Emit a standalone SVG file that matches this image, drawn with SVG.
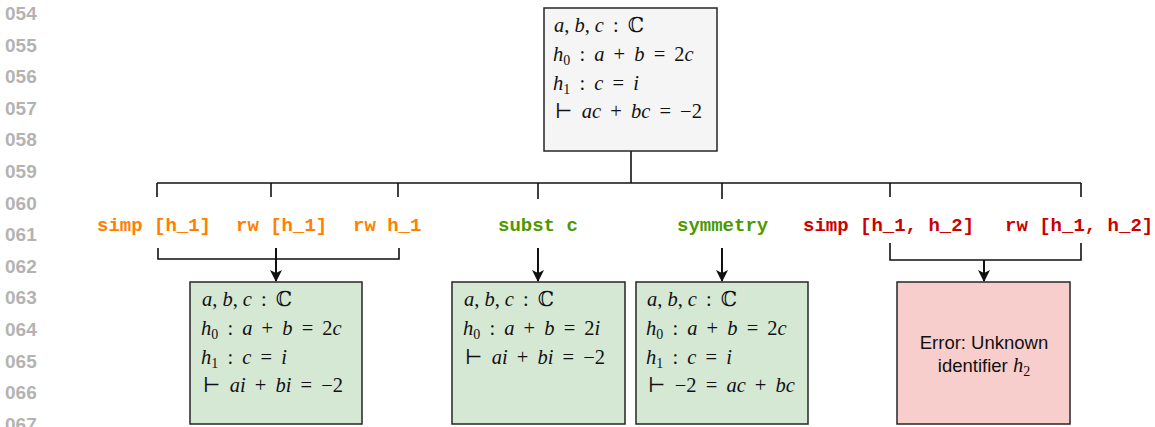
<svg xmlns="http://www.w3.org/2000/svg" width="1155" height="427" viewBox="0 0 1155 427">
<style>
.ln{font-family:"Liberation Sans",Arial,sans-serif;font-weight:bold;font-size:19px;fill:#b3b3b3}
.m{font-family:"Liberation Serif","DejaVu Serif",serif;font-size:20.5px;fill:#111;word-spacing:4px}
.i{font-style:italic}
.sub{font-size:14px}
.tac{font-family:"Liberation Mono","Courier New",monospace;font-weight:bold;font-size:19px}
.or{fill:#ff8000}.gr{fill:#4d9900}.rd{fill:#cc0000}
.box{stroke:#262626;stroke-width:1.5}
.conn line,.conn polyline{stroke:#111;stroke-width:1.6;fill:none}
.conn .a{stroke-width:2}
.err{font-family:"Liberation Sans",Arial,sans-serif;font-size:18.5px;fill:#111}
</style>
<defs>
<marker id="ah" markerWidth="14" markerHeight="14" refX="11" refY="6" orient="auto" markerUnits="userSpaceOnUse">
<path d="M0,0 L12,6 L0,12 L3,6 Z" fill="#111"/>
</marker>
</defs>
<g id="line-numbers" class="ln">
<text x="5" y="20">054</text>
<text x="5" y="51.6">055</text>
<text x="5" y="83.2">056</text>
<text x="5" y="114.8">057</text>
<text x="5" y="146.4">058</text>
<text x="5" y="178">059</text>
<text x="5" y="209.6">060</text>
<text x="5" y="241.2">061</text>
<text x="5" y="272.8">062</text>
<text x="5" y="304.4">063</text>
<text x="5" y="336">064</text>
<text x="5" y="367.6">065</text>
<text x="5" y="399.2">066</text>
<text x="5" y="430.8">067</text>
</g>
<g class="conn" id="connectors">
<line x1="631" y1="151" x2="631" y2="183"/>
<line x1="157" y1="183" x2="1081" y2="183"/>
<line x1="157" y1="183" x2="157" y2="197"/>
<line x1="271" y1="183" x2="271" y2="197"/>
<line x1="398" y1="183" x2="398" y2="197"/>
<line x1="538" y1="183" x2="538" y2="199"/>
<line x1="722" y1="183" x2="722" y2="199"/>
<line x1="890" y1="183" x2="890" y2="197"/>
<line x1="1081" y1="183" x2="1081" y2="197"/>
<polyline points="158,248 158,259 399,259 399,248"/>
<line class="a" x1="276" y1="248" x2="276" y2="281" marker-end="url(#ah)"/>
<line class="a" x1="538" y1="248" x2="538" y2="281" marker-end="url(#ah)"/>
<line class="a" x1="722" y1="248" x2="722" y2="281" marker-end="url(#ah)"/>
<polyline points="890,243 890,260 1081,260 1081,243"/>
<line class="a" x1="984" y1="260" x2="984" y2="281" marker-end="url(#ah)"/>
</g>
<g id="tactics" class="tac">
<text x="97" y="231" class="or">simp [h_1]</text>
<text x="236" y="231" class="or">rw [h_1]</text>
<text x="353" y="231" class="or">rw h_1</text>
<text x="498" y="231" class="gr">subst c</text>
<text x="677" y="231" class="gr">symmetry</text>
<text x="803" y="231" class="rd">simp [h_1, h_2]</text>
<text x="1005" y="231" class="rd">rw [h_1, h_2]</text>
</g>
<g id="root">
<rect class="box" x="544" y="8" width="173" height="143" fill="#f5f5f5"/>
<text class="m" x="554" y="32"><tspan class="i">a</tspan>,<tspan class="i" dx="5">b</tspan>,<tspan class="i" dx="5">c</tspan> : ℂ</text>
<text class="m" x="553" y="61"><tspan class="i">h</tspan><tspan class="sub" dy="4">0</tspan><tspan dy="-4"> : </tspan><tspan class="i">a</tspan> + <tspan class="i">b</tspan> = 2<tspan class="i">c</tspan></text>
<text class="m" x="553" y="90"><tspan class="i">h</tspan><tspan class="sub" dy="4">1</tspan><tspan dy="-4"> : </tspan><tspan class="i">c</tspan> = <tspan class="i">i</tspan></text>
<text class="m" x="555" y="118">⊢ <tspan class="i">ac</tspan> + <tspan class="i">bc</tspan> = −2</text>
</g>
<g id="n1">
<rect class="box" x="190" y="282" width="172" height="142" fill="#d5e8d4"/>
<text class="m" x="202" y="306"><tspan class="i">a</tspan>,<tspan class="i" dx="5">b</tspan>,<tspan class="i" dx="5">c</tspan> : ℂ</text>
<text class="m" x="201" y="335"><tspan class="i">h</tspan><tspan class="sub" dy="4">0</tspan><tspan dy="-4"> : </tspan><tspan class="i">a</tspan> + <tspan class="i">b</tspan> = 2<tspan class="i">c</tspan></text>
<text class="m" x="201" y="364"><tspan class="i">h</tspan><tspan class="sub" dy="4">1</tspan><tspan dy="-4"> : </tspan><tspan class="i">c</tspan> = <tspan class="i">i</tspan></text>
<text class="m" x="203" y="392">⊢ <tspan class="i">ai</tspan> + <tspan class="i">bi</tspan> = −2</text>
</g>
<g id="n2">
<rect class="box" x="452" y="282" width="173" height="142" fill="#d5e8d4"/>
<text class="m" x="464" y="306"><tspan class="i">a</tspan>,<tspan class="i" dx="5">b</tspan>,<tspan class="i" dx="5">c</tspan> : ℂ</text>
<text class="m" x="463" y="335"><tspan class="i">h</tspan><tspan class="sub" dy="4">0</tspan><tspan dy="-4"> : </tspan><tspan class="i">a</tspan> + <tspan class="i">b</tspan> = 2<tspan class="i">i</tspan></text>
<text class="m" x="465" y="364">⊢ <tspan class="i">ai</tspan> + <tspan class="i">bi</tspan> = −2</text>
</g>
<g id="n3">
<rect class="box" x="636" y="282" width="172" height="142" fill="#d5e8d4"/>
<text class="m" x="647" y="306"><tspan class="i">a</tspan>,<tspan class="i" dx="5">b</tspan>,<tspan class="i" dx="5">c</tspan> : ℂ</text>
<text class="m" x="646" y="335"><tspan class="i">h</tspan><tspan class="sub" dy="4">0</tspan><tspan dy="-4"> : </tspan><tspan class="i">a</tspan> + <tspan class="i">b</tspan> = 2<tspan class="i">c</tspan></text>
<text class="m" x="646" y="364"><tspan class="i">h</tspan><tspan class="sub" dy="4">1</tspan><tspan dy="-4"> : </tspan><tspan class="i">c</tspan> = <tspan class="i">i</tspan></text>
<text class="m" x="648" y="392">⊢ −2 = <tspan class="i">ac</tspan> + <tspan class="i">bc</tspan></text>
</g>
<g id="err">
<rect class="box" x="897" y="282" width="173" height="142" fill="#f8cecc"/>
<text class="err" x="984" y="349" text-anchor="middle">Error: Unknown</text>
<text class="err" x="984" y="372" text-anchor="middle">identifier <tspan font-family="Liberation Serif,serif" font-style="italic" font-size="20.5">h</tspan><tspan font-family="Liberation Serif,serif" font-size="14" dy="4">2</tspan></text>
</g>
</svg>
